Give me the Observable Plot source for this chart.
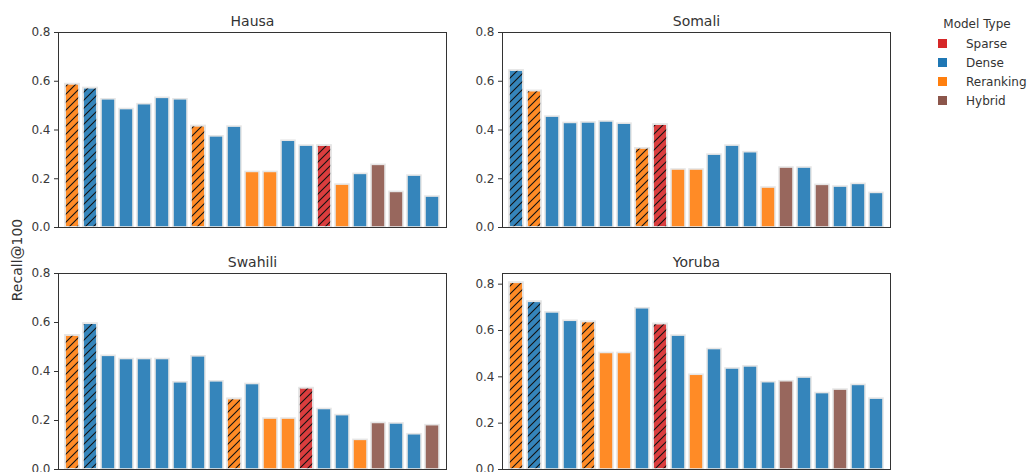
<!DOCTYPE html>
<html>
<head>
<meta charset="utf-8">
<script src="https://cdn.jsdelivr.net/npm/d3@7"></script>
<script src="https://cdn.jsdelivr.net/npm/@observablehq/plot@0.6"></script>
<style>
  html, body { margin: 0; padding: 0; background: #fff; }
  #wrap { position: relative; width: 1029px; height: 472px; overflow: hidden; font-family: "DejaVu Sans", sans-serif; color: #333; }
  .panel { position: absolute; }
  #ylab { position: absolute; left: 17px; top: 260px; transform: translate(-50%, -50%) rotate(-90deg); font-size: 14px; white-space: nowrap; }
  #legend { position: absolute; left: 930px; top: 17px; font-size: 12px; }
  #legend .title { position: absolute; left: 47px; top: 0; transform: translateX(-50%); white-space: nowrap; }
  #legend .item { position: absolute; left: 0; white-space: nowrap; }
  #legend .sw { position: absolute; left: 8px; width: 9px; height: 9px; }
  #legend .lb { position: absolute; left: 36px; top: -7px; }
</style>
</head>
<body>
<svg width="0" height="0" style="position:absolute">
  <defs>
    <pattern id="hatch" patternUnits="userSpaceOnUse" width="8" height="8">
      <path d="M-1,1 L1,-1 M0,8 L8,0 M7,9 L9,7" stroke="#111" stroke-width="1.1"/>
    </pattern>
  </defs>
</svg>
<div id="wrap"></div>
<script>
// ---- data ----
const languages = ["Hausa", "Somali", "Swahili", "Yoruba"];
const modelTypes = ["Sparse", "Dense", "Reranking", "Hybrid"];
const typeCodes = ["S", "D", "R", "H"];
const typeColors = ["#d62728", "#1f77b4", "#ff7f0e", "#8c564b"];
const barColors = ["#da3d3e", "#3585bb", "#ff8b26", "#98675d"];

const hausaRecall = [0.588, 0.572, 0.526, 0.486, 0.506, 0.532, 0.526, 0.416, 0.374, 0.414, 0.228, 0.228, 0.356, 0.336, 0.336, 0.176, 0.220, 0.257, 0.146, 0.213, 0.127];
const hausaType   = ["R","D","D","D","D","D","D","R","D","D","R","R","D","D","S","R","D","H","H","D","D"];
const hausaHatch  = [0, 1, 7, 14];

const somaliRecall = [0.644, 0.560, 0.455, 0.429, 0.431, 0.435, 0.426, 0.325, 0.422, 0.238, 0.238, 0.299, 0.336, 0.309, 0.164, 0.246, 0.246, 0.175, 0.168, 0.179, 0.142];
const somaliType   = ["D","R","D","D","D","D","D","R","S","R","R","D","D","D","R","H","D","H","D","D","D"];
const somaliHatch  = [0, 1, 7, 8];

const swahiliRecall = [0.547, 0.595, 0.464, 0.451, 0.451, 0.451, 0.356, 0.462, 0.360, 0.288, 0.349, 0.208, 0.208, 0.332, 0.247, 0.222, 0.121, 0.190, 0.188, 0.144, 0.181];
const swahiliType   = ["R","D","D","D","D","D","D","D","D","R","D","R","R","S","D","D","R","H","D","D","H"];
const swahiliHatch  = [0, 1, 9, 13];

const yorubaRecall = [0.806, 0.724, 0.678, 0.642, 0.637, 0.503, 0.503, 0.696, 0.628, 0.578, 0.409, 0.520, 0.436, 0.445, 0.377, 0.381, 0.397, 0.330, 0.345, 0.365, 0.306];
const yorubaType   = ["R","D","D","D","R","R","R","D","S","D","R","D","D","D","D","H","D","D","H","D","D"];
const yorubaHatch  = [0, 1, 4, 8];

const yTicks = [0, 0.2, 0.4, 0.6, 0.8];
const yMax = [0.8, 0.8, 0.8, 0.846];

// ---- build ----
const recalls = [hausaRecall, somaliRecall, swahiliRecall, yorubaRecall];
const types = [hausaType, somaliType, swahiliType, yorubaType];
const hatches = [hausaHatch, somaliHatch, swahiliHatch, yorubaHatch];
const layout = [
  {left: 0,   top: 0,   height: 240, mt: 32, mb: 13},
  {left: 444, top: 0,   height: 240, mt: 32, mb: 13},
  {left: 0,   top: 240, height: 232, mt: 33, mb: 3},
  {left: 444, top: 240, height: 232, mt: 33, mb: 3}
];
const codeToName = Object.fromEntries(typeCodes.map((c, i) => [c, modelTypes[i]]));
const wrap = document.getElementById("wrap");

languages.forEach((lang, k) => {
  const rows = recalls[k].map((v, i) => ({i, v, type: codeToName[types[k][i]], hatched: hatches[k].includes(i)}));
  const L = layout[k];
  const chart = Plot.plot({
    width: 460,
    height: L.height,
    marginLeft: 58,
    marginRight: 14,
    marginTop: L.mt,
    marginBottom: L.mb,
    style: {fontFamily: "DejaVu Sans, sans-serif", fontSize: "12px", color: "#3a3a3a", background: "transparent", overflow: "visible"},
    x: {type: "band", domain: d3.range(rows.length), paddingInner: 0.2, paddingOuter: 0.22, axis: null},
    y: {domain: [0, yMax[k]], axis: null},
    color: {domain: modelTypes, range: barColors},
    marks: [
      Plot.barY(rows, {x: "i", y: "v", fill: "type", stroke: "#e6e6e6", strokeWidth: 1.6}),
      Plot.barY(rows.filter(d => d.hatched), {x: "i", y: "v", fill: "url(#hatch)", stroke: "#e6e6e6", strokeWidth: 1.6}),
      Plot.frame({stroke: "#333", strokeWidth: 1}),
      Plot.axisY({ticks: yTicks, tickFormat: ".1f", tickSize: 4, tickPadding: 4, stroke: "#333", fill: "#3a3a3a", label: null}),
      Plot.text([lang], {frameAnchor: "top", dy: -16, fontSize: 14, fill: "#333"})
    ]
  });
  chart.classList.add("panel");
  chart.style.left = L.left + "px";
  chart.style.top = L.top + "px";
  wrap.appendChild(chart);
});

const ylab = document.createElement("div");
ylab.id = "ylab";
ylab.textContent = "Recall@100";
wrap.appendChild(ylab);

const legend = document.createElement("div");
legend.id = "legend";
const title = document.createElement("div");
title.className = "title";
title.textContent = "Model Type";
legend.appendChild(title);
modelTypes.forEach((t, i) => {
  const item = document.createElement("div");
  item.className = "item";
  item.style.top = (27 + i * 19) + "px";
  const sw = document.createElement("div");
  sw.className = "sw";
  sw.style.background = typeColors[i];
  sw.style.top = "-5px";
  const lb = document.createElement("div");
  lb.className = "lb";
  lb.textContent = t;
  item.appendChild(sw);
  item.appendChild(lb);
  legend.appendChild(item);
});
wrap.appendChild(legend);
</script>
</body>
</html>
